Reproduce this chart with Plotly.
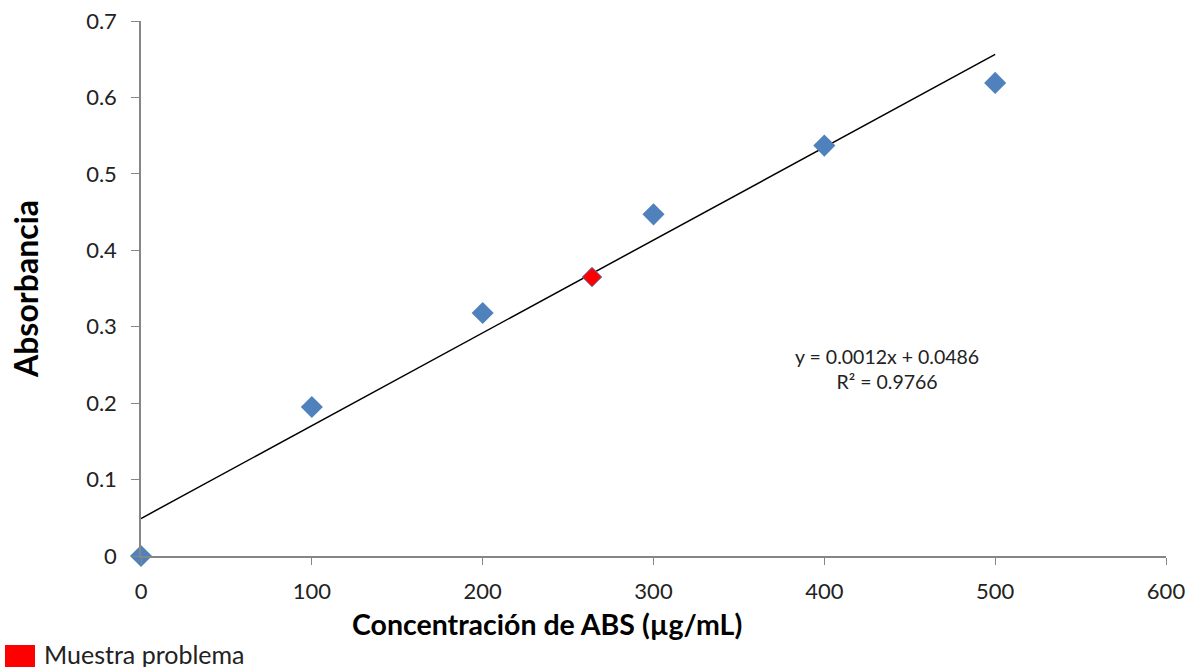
import numpy as np
import plotly.graph_objects as go

# Data
conc = [0, 100, 200, 300, 400, 500]
absorb = [0.0, 0.195, 0.318, 0.447, 0.537, 0.619]
sample_conc = [264]
sample_abs = [0.365]
equation_text = "y = 0.0012x + 0.0486<br>R² = 0.9766"
x_title = "<b>Concentración de ABS (µg/mL)</b>"
y_title = "<b>Absorbancia</b>"
x_ticks = [0, 100, 200, 300, 400, 500, 600]
y_ticks = [0, 0.1, 0.2, 0.3, 0.4, 0.5, 0.6, 0.7]
y_tick_labels = ["0", "0.1", "0.2", "0.3", "0.4", "0.5", "0.6", "0.7"]

slope, intercept = np.polyfit(conc, absorb, 1)
fit_x = [conc[0], conc[-1]]
fit_y = [slope * v + intercept for v in fit_x]

FONT = "Lato, Carlito, Calibri, sans-serif"
BLUE = "#4F81BD"

fig = go.Figure()
fig.add_trace(go.Scatter(x=fit_x, y=fit_y, mode="lines",
                         line=dict(color="black", width=1.5),
                         showlegend=False, hoverinfo="skip"))
fig.add_trace(go.Scatter(x=conc, y=absorb, mode="markers",
                         marker=dict(symbol="diamond", size=17, color=BLUE,
                                     line=dict(width=0)),
                         cliponaxis=False, showlegend=False))
fig.add_trace(go.Scatter(x=sample_conc, y=sample_abs, mode="markers",
                         marker=dict(symbol="diamond", size=15, color="#FF0000",
                                     line=dict(width=1, color=BLUE)),
                         cliponaxis=False, showlegend=False,
                         name="Muestra problema"))

W, H = 1190, 667
L, T = 141, 21
pw, ph = 1025, 535
R, B = W - L - pw, H - T - ph

def px_x(p):
    return (p - L) / pw

def px_y(p):
    return (T + ph - p) / ph

fig.update_layout(
    width=W, height=H,
    margin=dict(l=L, r=R, t=T, b=B, autoexpand=False),
    paper_bgcolor="white", plot_bgcolor="white",
    font=dict(family=FONT, color="#222222", size=20),
    xaxis=dict(range=[0, 600], tickvals=x_ticks, ticks="outside", ticklen=7,
               tickcolor="#868686", showline=True, linecolor="#868686",
               linewidth=1.5, showgrid=False, zeroline=False, automargin=False,
               ticklabelstandoff=8, ticklabeloverflow="allow",
               tickfont=dict(size=22, family=FONT, color="#222222")),
    yaxis=dict(range=[0, 0.7], tickvals=y_ticks, ticktext=y_tick_labels,
               ticks="outside", ticklen=8, tickcolor="#868686",
               showline=True, linecolor="#868686", linewidth=1.5,
               showgrid=False, zeroline=False, automargin=False,
               ticklabelstandoff=10, ticklabeloverflow="allow",
               tickfont=dict(size=22, family=FONT, color="#222222"),
               title=dict(text=y_title,
                          font=dict(size=32, family=FONT, color="black"),
                          standoff=38)),
    showlegend=False,
)

# x-axis title (offset left of the plot centre, as in the original)
fig.add_annotation(x=px_x(547), y=px_y(624), xref="paper", yref="paper",
                   xanchor="center", yanchor="middle", text=x_title,
                   showarrow=False,
                   font=dict(size=28.5, family=FONT, color="black"))

fig.add_annotation(x=px_x(887), y=px_y(369), xref="paper", yref="paper",
                   xanchor="center", yanchor="middle",
                   text=equation_text, showarrow=False, align="center",
                   font=dict(size=19.5, family=FONT, color="#222222"))

# Legend entry for the sample
fig.add_shape(type="rect", xref="paper", yref="paper",
              x0=px_x(5), x1=px_x(35), y0=px_y(670), y1=px_y(645),
              fillcolor="#FF0000", line=dict(width=0))
fig.add_annotation(x=px_x(42), y=px_y(654), xref="paper", yref="paper",
                   xanchor="left", yanchor="middle", text="Muestra problema",
                   showarrow=False,
                   font=dict(size=25, family=FONT, color="#222222"))

fig.write_html("out.html",
               config={"displayModeBar": False},
               post_script="document.body.style.margin='0';"
                           "document.body.style.overflow='hidden';")
